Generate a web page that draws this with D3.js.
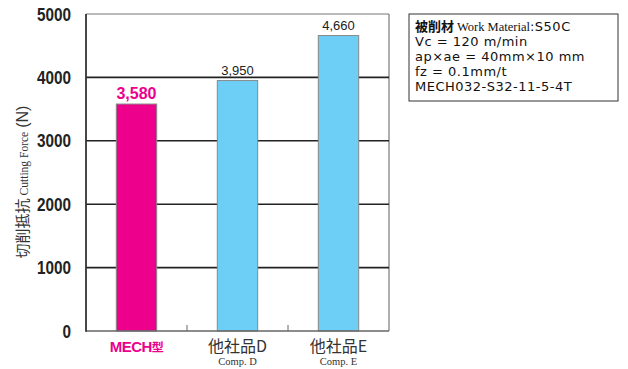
<!DOCTYPE html>
<html><head><meta charset="utf-8">
<script src="https://cdn.jsdelivr.net/npm/d3@7"></script>
<style>body{margin:0;background:#fff}</style>
</head><body>
<svg id="c" width="628" height="369"></svg>
<script>
const categories = ["MECH型", "他社品D", "他社品E"];
const subLabels = ["", "Comp. D", "Comp. E"];
const values = [3580, 3950, 4660];
const valueLabels = ["3,580", "3,950", "4,660"];
const yTicks = [0, 1000, 2000, 3000, 4000, 5000];
const infoLines = ["Vc = 120 m/min", "ap×ae = 40mm×10 mm", "fz = 0.1mm/t", "MECH032-S32-11-5-4T"];

const svg = d3.select("#c");
const L = 86, R = 389, T = 14, B = 331;
const x = d3.scaleBand().domain(categories).range([L, R]).paddingInner(0.6).paddingOuter(0.3);
const y = d3.scaleLinear().domain([0, 5000]).range([B, T]);
const sans = "'Liberation Sans', Arial, sans-serif";
const serif = "'Liberation Serif', 'Times New Roman', serif";

// frame top/right
svg.append("line").attr("x1", L).attr("x2", R).attr("y1", T).attr("y2", T).attr("stroke", "#777").attr("stroke-width", 1);
svg.append("line").attr("x1", R).attr("x2", R).attr("y1", T).attr("y2", B).attr("stroke", "#777").attr("stroke-width", 1.2);

// gridlines
svg.append("g").selectAll("line").data(yTicks.filter(d => d > 0 && d < 5000)).join("line")
  .attr("x1", L).attr("x2", R).attr("y1", d => y(d)).attr("y2", d => y(d))
  .attr("stroke", "#222").attr("stroke-width", 1.6);

// bars
svg.append("g").selectAll("rect").data(values).join("rect")
  .attr("x", (d, i) => x(categories[i])).attr("width", x.bandwidth())
  .attr("y", d => y(d)).attr("height", d => B - y(d))
  .attr("fill", (d, i) => i === 0 ? "#EC008C" : "#6DCFF6")
  .attr("stroke", "#888").attr("stroke-width", 1);

// bottom axis line & ticks
svg.append("line").attr("x1", L).attr("x2", R).attr("y1", B).attr("y2", B).attr("stroke", "#666").attr("stroke-width", 1.5);
const bstep = x.step();
svg.append("g").selectAll("line").data(categories.slice(1)).join("line")
  .attr("x1", d => x(d) - (bstep - x.bandwidth()) / 2).attr("x2", d => x(d) - (bstep - x.bandwidth()) / 2)
  .attr("y1", B).attr("y2", B - 6).attr("stroke", "#666").attr("stroke-width", 1);
// left axis
svg.append("line").attr("x1", L).attr("x2", L).attr("y1", T).attr("y2", B + 0.75).attr("stroke", "#333").attr("stroke-width", 1.8);

// y tick labels (condensed)
svg.append("g").selectAll("text").data(yTicks).join("text")
  .attr("transform", d => `translate(71,${y(d) + 6.5}) scale(0.85,1)`)
  .attr("text-anchor", "end")
  .attr("font-family", sans).attr("font-weight", "bold").attr("font-size", 18).attr("fill", "#222")
  .text(d => d);

// value labels
svg.append("g").selectAll("text").data(values).join("text")
  .attr("x", (d, i) => x(categories[i]) + x.bandwidth() / 2)
  .attr("y", (d, i) => y(d) - (i === 0 ? 5 : 5.5))
  .attr("text-anchor", "middle").attr("font-family", sans)
  .attr("font-weight", (d, i) => i === 0 ? "bold" : "normal")
  .attr("font-size", (d, i) => i === 0 ? 16 : 13)
  .attr("fill", (d, i) => i === 0 ? "#EC008C" : "#222")
  .text((d, i) => valueLabels[i]);

// x labels
categories.forEach((c, i) => {
  const cx = x(c) + x.bandwidth() / 2;
  if (i === 0) {
    svg.append("text").attr("x", cx).attr("y", 352).attr("text-anchor", "middle")
      .attr("font-family", sans).attr("font-weight", "bold").attr("font-size", 15).attr("fill", "#EC008C")
      .attr("letter-spacing", -0.5)
      .html('MECH<tspan font-size="12" font-weight="bold" font-family="\'Noto Sans CJK JP\'">型</tspan>');
  } else {
    svg.append("text").attr("x", cx).attr("y", 352).attr("text-anchor", "middle")
      .attr("font-family", "'Noto Sans CJK JP', sans-serif").attr("font-size", 16).attr("fill", "#333")
      .text(c);
    svg.append("text").attr("x", cx).attr("y", 365).attr("text-anchor", "middle")
      .attr("font-family", serif).attr("font-size", 10.5).attr("fill", "#333")
      .text(subLabels[i]);
  }
});

// y axis title
svg.append("text").attr("transform", "translate(28,182) rotate(-90)").attr("text-anchor", "middle")
  .attr("fill", "#333")
  .html('<tspan font-family="\'Noto Sans CJK JP\'" font-size="15">切削抵抗</tspan><tspan font-family="' + "Liberation Serif" + '" font-size="11.5" dx="3">Cutting Force</tspan><tspan font-family="Liberation Sans" font-size="16" dx="4">(N)</tspan>');

// info box
svg.append("rect").attr("x", 409).attr("y", 14).attr("width", 209).attr("height", 87)
  .attr("fill", "#fff").attr("stroke", "#333").attr("stroke-width", 1);
svg.append("text").attr("x", 415).attr("y", 31).attr("fill", "#111")
  .html('<tspan font-family="\'Noto Sans CJK JP\'" font-size="13" font-weight="bold">被削材</tspan><tspan font-family="Liberation Serif" font-size="12.5" dx="3">Work Material</tspan><tspan font-family="DejaVu Sans" font-size="13" letter-spacing="0.5">:S50C</tspan>');
svg.append("g").selectAll("text").data(infoLines).join("text")
  .attr("x", 415).attr("y", (d, i) => 46 + i * 15)
  .attr("font-family", "'DejaVu Sans', sans-serif").attr("font-size", 13).attr("letter-spacing", 0.5).attr("fill", "#111")
  .text(d => d);
</script>
</body></html>
